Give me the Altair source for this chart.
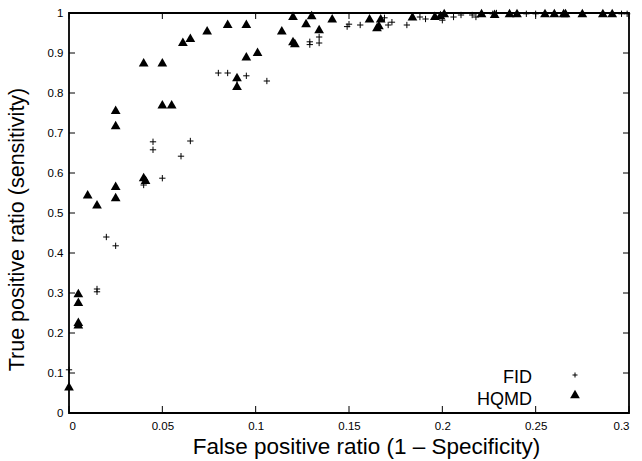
import altair as alt
import pandas as pd

# ---- data ----
series_names = ["FID", "HQMD"]

fid_x = [0.0, 0.015, 0.015, 0.02, 0.025, 0.04, 0.045, 0.045, 0.05, 0.06,
         0.065, 0.08, 0.085, 0.09, 0.095, 0.106, 0.129, 0.129, 0.134, 0.134,
         0.149, 0.15, 0.156, 0.169, 0.171, 0.173, 0.181, 0.188, 0.191, 0.2,
         0.206, 0.21, 0.216, 0.218, 0.227, 0.229, 0.245, 0.25, 0.296, 0.299]
fid_y = [0.108, 0.31, 0.303, 0.44, 0.418, 0.57, 0.678, 0.658, 0.587, 0.642,
         0.68, 0.85, 0.85, 0.832, 0.843, 0.83, 0.928, 0.921, 0.94, 0.925,
         0.966, 0.972, 0.97, 0.988, 0.97, 0.977, 0.97, 0.99, 0.985, 0.982,
         0.99, 0.995, 0.995, 0.99, 0.998, 1.0, 0.998, 0.998, 0.998, 0.998]

hqmd_x = [0.0, 0.005, 0.005, 0.005, 0.005, 0.01, 0.015, 0.025, 0.025, 0.025,
          0.025, 0.04, 0.04, 0.041, 0.05, 0.05, 0.055, 0.061, 0.065, 0.074,
          0.085, 0.09, 0.09, 0.095, 0.095, 0.101, 0.114, 0.12, 0.12, 0.121,
          0.127, 0.13, 0.134, 0.141, 0.161, 0.166, 0.167, 0.165, 0.184, 0.196,
          0.199, 0.201, 0.221, 0.228, 0.236, 0.24, 0.255, 0.26, 0.265, 0.266,
          0.275, 0.286, 0.291]
hqmd_y = [0.067, 0.30, 0.278, 0.228, 0.222, 0.547, 0.522, 0.568, 0.54, 0.72,
          0.758, 0.877, 0.59, 0.583, 0.877, 0.772, 0.772, 0.928, 0.938, 0.957,
          0.973, 0.84, 0.818, 0.973, 0.892, 0.903, 0.957, 0.993, 0.93, 0.925,
          0.975, 0.995, 0.96, 0.987, 0.987, 0.97, 0.987, 0.965, 0.992, 0.993,
          0.995, 1.0, 1.0, 0.998, 1.0, 1.0, 1.0, 1.0, 1.0, 1.0,
          1.0, 1.0, 1.0]

x_ticks = [0, 0.05, 0.1, 0.15, 0.2, 0.25, 0.3]
y_ticks = [0, 0.1, 0.2, 0.3, 0.4, 0.5, 0.6, 0.7, 0.8, 0.9, 1.0]

# ---- layout ----
W, H = 560, 400
FONT = "Liberation Sans"
CROSS = "M-1,0L1,0M0,-1L0,1"

xs = alt.Scale(domain=[0, 0.3], nice=False, zero=False)
ys = alt.Scale(domain=[0, 1], nice=False, zero=False)

x_axis = alt.Axis(values=x_ticks, format="~g", tickSize=0, domain=False, grid=False,
                  labelPadding=7, labelFontSize=11.5, labelColor="black", labelFont=FONT,
                  title="False positive ratio (1 \u2013 Specificity)",
                  titleFontSize=22.5, titleFontWeight="normal", titleFont=FONT,
                  titleColor="black", titleX=297, titleY=40, titleBaseline="alphabetic")
y_axis = alt.Axis(values=y_ticks, format="~g", tickSize=0, domain=False, grid=False,
                  labelPadding=6, labelFontSize=11.5, labelColor="black", labelFont=FONT,
                  title="True positive ratio (sensitivity)",
                  titleFontSize=21.5, titleFontWeight="normal", titleFont=FONT,
                  titleColor="black", titleX=-46, titleY=216, titleAngle=270,
                  titleBaseline="alphabetic")

def X(f="x"):
    return alt.X(f"{f}:Q", scale=xs, axis=x_axis)

def Y(f="y"):
    return alt.Y(f"{f}:Q", scale=ys, axis=y_axis)

fid = pd.DataFrame({"x": fid_x, "y": fid_y, "s": series_names[0]})
hq = pd.DataFrame({"x": hqmd_x, "y": hqmd_y, "s": series_names[1]})
xt = pd.DataFrame({"x": x_ticks})
yt = pd.DataFrame({"y": y_ticks})
leg = pd.DataFrame({"s": series_names})

fid_layer = alt.Chart(fid).mark_point(shape=CROSS, size=40, filled=False,
                                      color="black", strokeWidth=1, opacity=1,
                                      clip=False).encode(x=X(), y=Y())
hq_layer = alt.Chart(hq).mark_point(shape="triangle-up", size=95, filled=True,
                                    color="black", opacity=1,
                                    clip=False).encode(x=X(), y=Y())

tick_bottom = alt.Chart(xt).mark_rule(color="black", strokeWidth=1).encode(
    x=X(), y=alt.value(H), y2=alt.value(H - 7))
tick_top = alt.Chart(xt).mark_rule(color="black", strokeWidth=1).encode(
    x=X(), y=alt.value(0), y2=alt.value(6))
tick_left = alt.Chart(yt).mark_rule(color="black", strokeWidth=1).encode(
    y=Y(), x=alt.value(0), x2=alt.value(6))
tick_right = alt.Chart(yt).mark_rule(color="black", strokeWidth=1).encode(
    y=Y(), x=alt.value(W), x2=alt.value(W - 6))

leg_fid_text = alt.Chart(leg).transform_filter(alt.datum.s == "FID").mark_text(
    align="right", baseline="alphabetic", fontSize=18, font=FONT, color="black"
).encode(text="s:N", x=alt.value(463), y=alt.value(370))
leg_hq_text = alt.Chart(leg).transform_filter(alt.datum.s == "HQMD").mark_text(
    align="right", baseline="alphabetic", fontSize=18, font=FONT, color="black"
).encode(text="s:N", x=alt.value(463), y=alt.value(392))
leg_fid_sym = alt.Chart(leg).transform_filter(alt.datum.s == "FID").mark_point(
    shape=CROSS, size=25, filled=False, color="black", strokeWidth=1, opacity=1
).encode(x=alt.value(506), y=alt.value(362))
leg_hq_sym = alt.Chart(leg).transform_filter(alt.datum.s == "HQMD").mark_point(
    shape="triangle-up", size=95, filled=True, color="black", opacity=1
).encode(x=alt.value(506), y=alt.value(381))

chart = alt.layer(
    tick_bottom, tick_top, tick_left, tick_right,
    fid_layer, hq_layer,
    leg_fid_text, leg_hq_text, leg_fid_sym, leg_hq_sym
).properties(
    width=W, height=H,
    autosize=alt.AutoSizeParams(type="none"),
    padding={"left": 69, "top": 13, "right": 13, "bottom": 48},
    background="white"
).configure_view(stroke="black", strokeWidth=1.8)

chart.save("out.html", embed_options={"renderer": "svg", "actions": False})
